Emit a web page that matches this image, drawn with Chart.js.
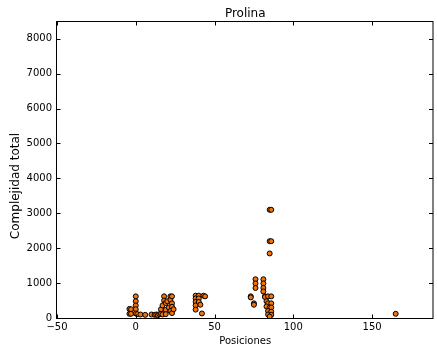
<!DOCTYPE html>
<html>
<head>
<meta charset="utf-8">
<script src="https://cdn.jsdelivr.net/npm/chart.js@4/dist/chart.umd.min.js"></script>
<style>
  html, body { margin: 0; padding: 0; background: #fff; }
  canvas { display: block; }
</style>
</head>
<body>
<canvas id="chart" width="437" height="353"></canvas>
<script>
// posicion del residuo y complejidad total en ese punto
const posiciones = [
  -4, -4, -3, -3, 0, 0, 0, 0, 0, 1, 3, 6,
  10, 12, 13, 14, 15, 16, 16, 17, 17, 18, 18, 19, 19, 19, 20, 21, 22, 22, 23, 23, 23, 22, 23, 24,
  38, 38, 38, 38, 38, 40, 40, 40, 41, 42, 43, 44,
  73, 73, 75, 75, 76, 76, 76, 81, 81, 81, 81, 82, 82, 84, 86, 83, 84, 86, 83, 85, 86, 84, 86, 84, 86, 85,
  85, 86, 85, 86, 85,
  165
];
const complejidad = [
  260, 120, 250, 120, 620, 480, 360, 250, 130, 110, 100, 90,
  100, 90, 100, 80, 110, 250, 120, 360, 100, 620, 500, 430, 230, 110, 480, 300, 620, 520, 620, 420, 320, 200, 140, 250,
  640, 560, 460, 360, 240, 640, 560, 460, 380, 130, 640, 620,
  620, 590, 420, 380, 1110, 990, 860, 1110, 990, 860, 760, 620, 600, 620, 620, 480, 420, 420, 330, 300, 300, 200, 180, 100, 90, 40,
  3100, 3100, 2200, 2200, 1850,
  120
];

const xTicks = [-50, 0, 50, 100, 150];
const yTicks = [0, 1000, 2000, 3000, 4000, 5000, 6000, 7000, 8000];
const yTitulo = 'Complejidad total';

const puntos = posiciones.map((p, i) => ({ x: p, y: complejidad[i] }));

const fuente = 'DejaVu Sans';

// marco negro con marcas hacia dentro en los cuatro lados, y el rotulo del eje y
const marco = {
  id: 'marco',
  afterDatasetsDraw(chart) {
    const { ctx, chartArea: a, scales } = chart;
    const l = a.left - 0.5, r = a.right - 0.5, t = a.top - 0.5, b = a.bottom + 0.5;
    ctx.save();
    ctx.strokeStyle = '#000';
    ctx.lineWidth = 1;
    ctx.strokeRect(l, t, r - l, b - t);
    ctx.beginPath();
    scales.x.ticks.forEach(tk => {
      const px = Math.round(scales.x.getPixelForValue(tk.value)) + 0.5;
      ctx.moveTo(px, b); ctx.lineTo(px, b - 4);
      ctx.moveTo(px, t); ctx.lineTo(px, t + 4);
    });
    scales.y.ticks.forEach(tk => {
      const py = Math.round(scales.y.getPixelForValue(tk.value)) + 0.5;
      ctx.moveTo(l, py); ctx.lineTo(l + 4, py);
      ctx.moveTo(r, py); ctx.lineTo(r - 4, py);
    });
    ctx.stroke();

    ctx.translate(16, 186);
    ctx.rotate(-Math.PI / 2);
    ctx.fillStyle = '#000';
    ctx.font = '12px "' + fuente + '"';
    ctx.textAlign = 'center';
    ctx.textBaseline = 'middle';
    ctx.fillText(yTitulo, 0, 0);
    ctx.restore();
  }
};

new Chart(document.getElementById('chart'), {
  type: 'scatter',
  data: {
    datasets: [{
      data: puntos,
      backgroundColor: '#ee740e',
      borderColor: '#000',
      borderWidth: 1,
      pointRadius: 2.5,
      pointHoverRadius: 2.5
    }]
  },
  options: {
    responsive: false,
    devicePixelRatio: 1,
    animation: false,
    layout: { padding: { left: 0, right: 1, top: 0, bottom: 0 } },
    plugins: {
      legend: { display: false },
      tooltip: { enabled: false },
      title: {
        display: true,
        text: 'Prolina',
        color: '#000',
        fullSize: false,
        font: { family: fuente, size: 12, weight: 'normal' },
        padding: { top: 7, bottom: 0.6 }
      }
    },
    scales: {
      x: {
        type: 'linear',
        min: -50,
        max: 189,
        afterFit: s => { s.height = 35; },
        afterBuildTicks: s => { s.ticks = xTicks.map(v => ({ value: v })); },
        grid: { display: false, drawTicks: false },
        border: { display: false },
        ticks: {
          color: '#000',
          padding: 3,
          font: { family: fuente, size: 10 },
          callback: v => v < 0 ? '\u2212' + Math.abs(v) : String(v)
        },
        title: {
          display: true,
          text: 'Posiciones',
          color: '#000',
          font: { family: fuente, size: 10 },
          padding: { top: 0, bottom: 5.5 }
        }
      },
      y: {
        type: 'linear',
        min: 0,
        max: 8480,
        afterFit: s => { s.width = 57; },
        afterBuildTicks: s => { s.ticks = yTicks.map(v => ({ value: v })); },
        grid: { display: false, drawTicks: false },
        border: { display: false },
        ticks: {
          color: '#000',
          padding: 5,
          font: { family: fuente, size: 10 },
          callback: v => String(v)
        },
        title: { display: false }
      }
    }
  },
  plugins: [marco]
});
</script>
</body>
</html>
